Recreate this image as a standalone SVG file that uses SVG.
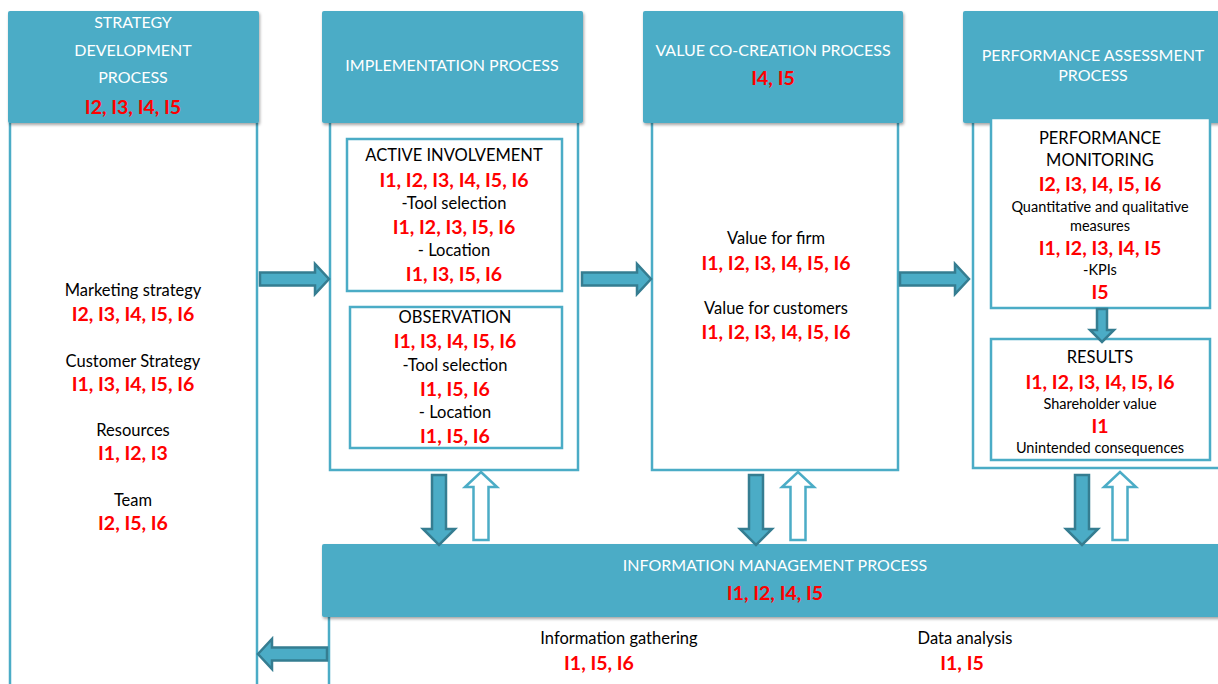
<svg xmlns="http://www.w3.org/2000/svg" width="1218" height="684" viewBox="0 0 1218 684">
  <defs>
    <filter id="shadow" x="-5%" y="-10%" width="115%" height="130%">
      <feDropShadow dx="1" dy="2" stdDeviation="1.5" flood-color="#000" flood-opacity="0.35"/>
    </filter>
    <path id="arrowRight" d="M0,-6.5 H55 V-15 L69,0 L55,15 V6.5 H0 Z"/>
    <path id="arrowDown" d="M-7,0 H7 V54 H16 L0,70 L-16,54 H-7 Z"/>
    <path id="arrowUp" d="M-7.5,0 H7.5 V-53 H16 L0,-68 L-16,-53 H-7.5 Z"/>
  </defs>
  <style>
    .head { fill: #4BACC6; filter: url(#shadow); }
    .body { fill: #FFFFFF; stroke: #4BACC6; stroke-width: 2.5; }
    .inner { fill: #FFFFFF; stroke: #4BACC6; stroke-width: 2.5; }
    .solid { fill: #4BACC6; stroke: #357D91; stroke-width: 2.5; stroke-linejoin: miter; }
    .hollow { fill: #FFFFFF; stroke: #4BACC6; stroke-width: 2.5; }
    text { font-family: Lato, "Open Sans", "Liberation Sans", sans-serif; text-anchor: middle; }
    .ht { fill: #FFFFFF; font-size: 16px; }
    .t { fill: #000000; font-size: 16.5px; }
    .s { fill: #000000; font-size: 14.5px; }
    .r { fill: #FF0000; font-size: 19.5px; font-weight: bold; }
  </style>

  <!-- Strategy development process -->
  <g id="strategy">
    <rect class="body" x="10" y="118" width="247" height="620"/>
    <rect class="head" x="8" y="11" width="251" height="112" rx="2"/>
    <text class="ht" x="133" y="28">STRATEGY</text>
    <text class="ht" x="133" y="56">DEVELOPMENT</text>
    <text class="ht" x="133" y="83">PROCESS</text>
    <text class="r" x="133" y="114">I2, I3, I4, I5</text>
    <text class="t" x="133" y="296">Marketing strategy</text>
    <text class="r" x="133" y="321">I2, I3, I4, I5, I6</text>
    <text class="t" x="133" y="367">Customer Strategy</text>
    <text class="r" x="133" y="391">I1, I3, I4, I5, I6</text>
    <text class="t" x="133" y="436">Resources</text>
    <text class="r" x="133" y="460">I1, I2, I3</text>
    <text class="t" x="133" y="506">Team</text>
    <text class="r" x="133" y="530">I2, I5, I6</text>
  </g>

  <!-- Implementation process -->
  <g id="implementation">
    <rect class="body" x="330" y="118" width="248" height="352"/>
    <rect class="head" x="322" y="11" width="261" height="112" rx="2"/>
    <text class="ht" x="452" y="71">IMPLEMENTATION PROCESS</text>
  </g>

  <g id="active-involvement">
    <rect class="inner" x="347" y="139" width="215" height="152"/>
    <text class="t" x="454" y="161">ACTIVE INVOLVEMENT</text>
    <text class="r" x="454" y="187">I1, I2, I3, I4, I5, I6</text>
    <text class="t" x="454" y="209">-Tool selection</text>
    <text class="r" x="454" y="234">I1, I2, I3, I5, I6</text>
    <text class="t" x="454" y="256">- Location</text>
    <text class="r" x="454" y="281">I1, I3, I5, I6</text>
  </g>

  <g id="observation">
    <rect class="inner" x="350" y="307" width="212" height="141"/>
    <text class="t" x="455" y="323">OBSERVATION</text>
    <text class="r" x="455" y="348">I1, I3, I4, I5, I6</text>
    <text class="t" x="455" y="371">-Tool selection</text>
    <text class="r" x="455" y="396">I1, I5, I6</text>
    <text class="t" x="455" y="418">- Location</text>
    <text class="r" x="455" y="443">I1, I5, I6</text>
  </g>

  <!-- Value co-creation process -->
  <g id="value-co-creation">
    <rect class="body" x="652" y="118" width="246" height="352"/>
    <rect class="head" x="643" y="11" width="260" height="112" rx="2"/>
    <text class="ht" x="773" y="56">VALUE CO-CREATION PROCESS</text>
    <text class="r" x="773" y="85">I4, I5</text>
    <text class="t" x="776" y="244">Value for firm</text>
    <text class="r" x="776" y="270">I1, I2, I3, I4, I5, I6</text>
    <text class="t" x="776" y="314">Value for customers</text>
    <text class="r" x="776" y="339">I1, I2, I3, I4, I5, I6</text>
  </g>

  <!-- Performance assessment process -->
  <g id="performance-assessment">
    <rect class="body" x="973" y="118" width="270" height="350"/>
    <rect class="head" x="963" y="11" width="270" height="112" rx="2"/>
    <text class="ht" x="1093" y="61">PERFORMANCE ASSESSMENT</text>
    <text class="ht" x="1093" y="81">PROCESS</text>
  </g>

  <g id="performance-monitoring">
    <rect class="inner" x="991" y="118" width="219" height="190"/>
    <text class="t" x="1100" y="144">PERFORMANCE</text>
    <text class="t" x="1100" y="166">MONITORING</text>
    <text class="r" x="1100" y="191">I2, I3, I4, I5, I6</text>
    <text class="s" x="1100" y="212">Quantitative and qualitative</text>
    <text class="s" x="1100" y="231">measures</text>
    <text class="r" x="1100" y="255">I1, I2, I3, I4, I5</text>
    <text class="s" x="1100" y="275">-KPIs</text>
    <text class="r" x="1100" y="299">I5</text>
  </g>

  <g id="results">
    <rect class="inner" x="991" y="339" width="219" height="121"/>
    <text class="t" x="1100" y="363">RESULTS</text>
    <text class="r" x="1100" y="389">I1, I2, I3, I4, I5, I6</text>
    <text class="s" x="1100" y="409">Shareholder value</text>
    <text class="r" x="1100" y="433">I1</text>
    <text class="s" x="1100" y="453">Unintended consequences</text>
  </g>

  <!-- Information management process -->
  <g id="information-management">
    <rect class="body" x="329" y="612" width="1000" height="200"/>
    <rect class="head" x="322" y="544" width="920" height="73" rx="2"/>
    <text class="ht" x="775" y="571">INFORMATION MANAGEMENT PROCESS</text>
    <text class="r" x="775" y="600">I1, I2, I4, I5</text>
    <text class="t" x="619" y="644">Information gathering</text>
    <text class="r" x="599" y="670">I1, I5, I6</text>
    <text class="t" x="965" y="644">Data analysis</text>
    <text class="r" x="962" y="670">I1, I5</text>
  </g>

  <!-- Flow arrows -->
  <g id="connectors">
    <use href="#arrowRight" class="solid" x="260" y="279"/>
    <use href="#arrowRight" class="solid" x="582" y="279"/>
    <use href="#arrowRight" class="solid" x="900" y="279"/>
    <use href="#arrowRight" class="solid" transform="translate(327,654) scale(-1,1)"/>

    <path class="solid" d="M1097,309 H1107 V330 H1114 L1102,342 L1090,330 H1097 Z"/>

    <use href="#arrowDown" class="solid" x="439" y="475"/>
    <use href="#arrowUp" class="hollow" x="481" y="540"/>
    <use href="#arrowDown" class="solid" x="756" y="475"/>
    <use href="#arrowUp" class="hollow" x="798" y="540"/>
    <use href="#arrowDown" class="solid" x="1082" y="475"/>
    <use href="#arrowUp" class="hollow" x="1120" y="540"/>
  </g>
</svg>
